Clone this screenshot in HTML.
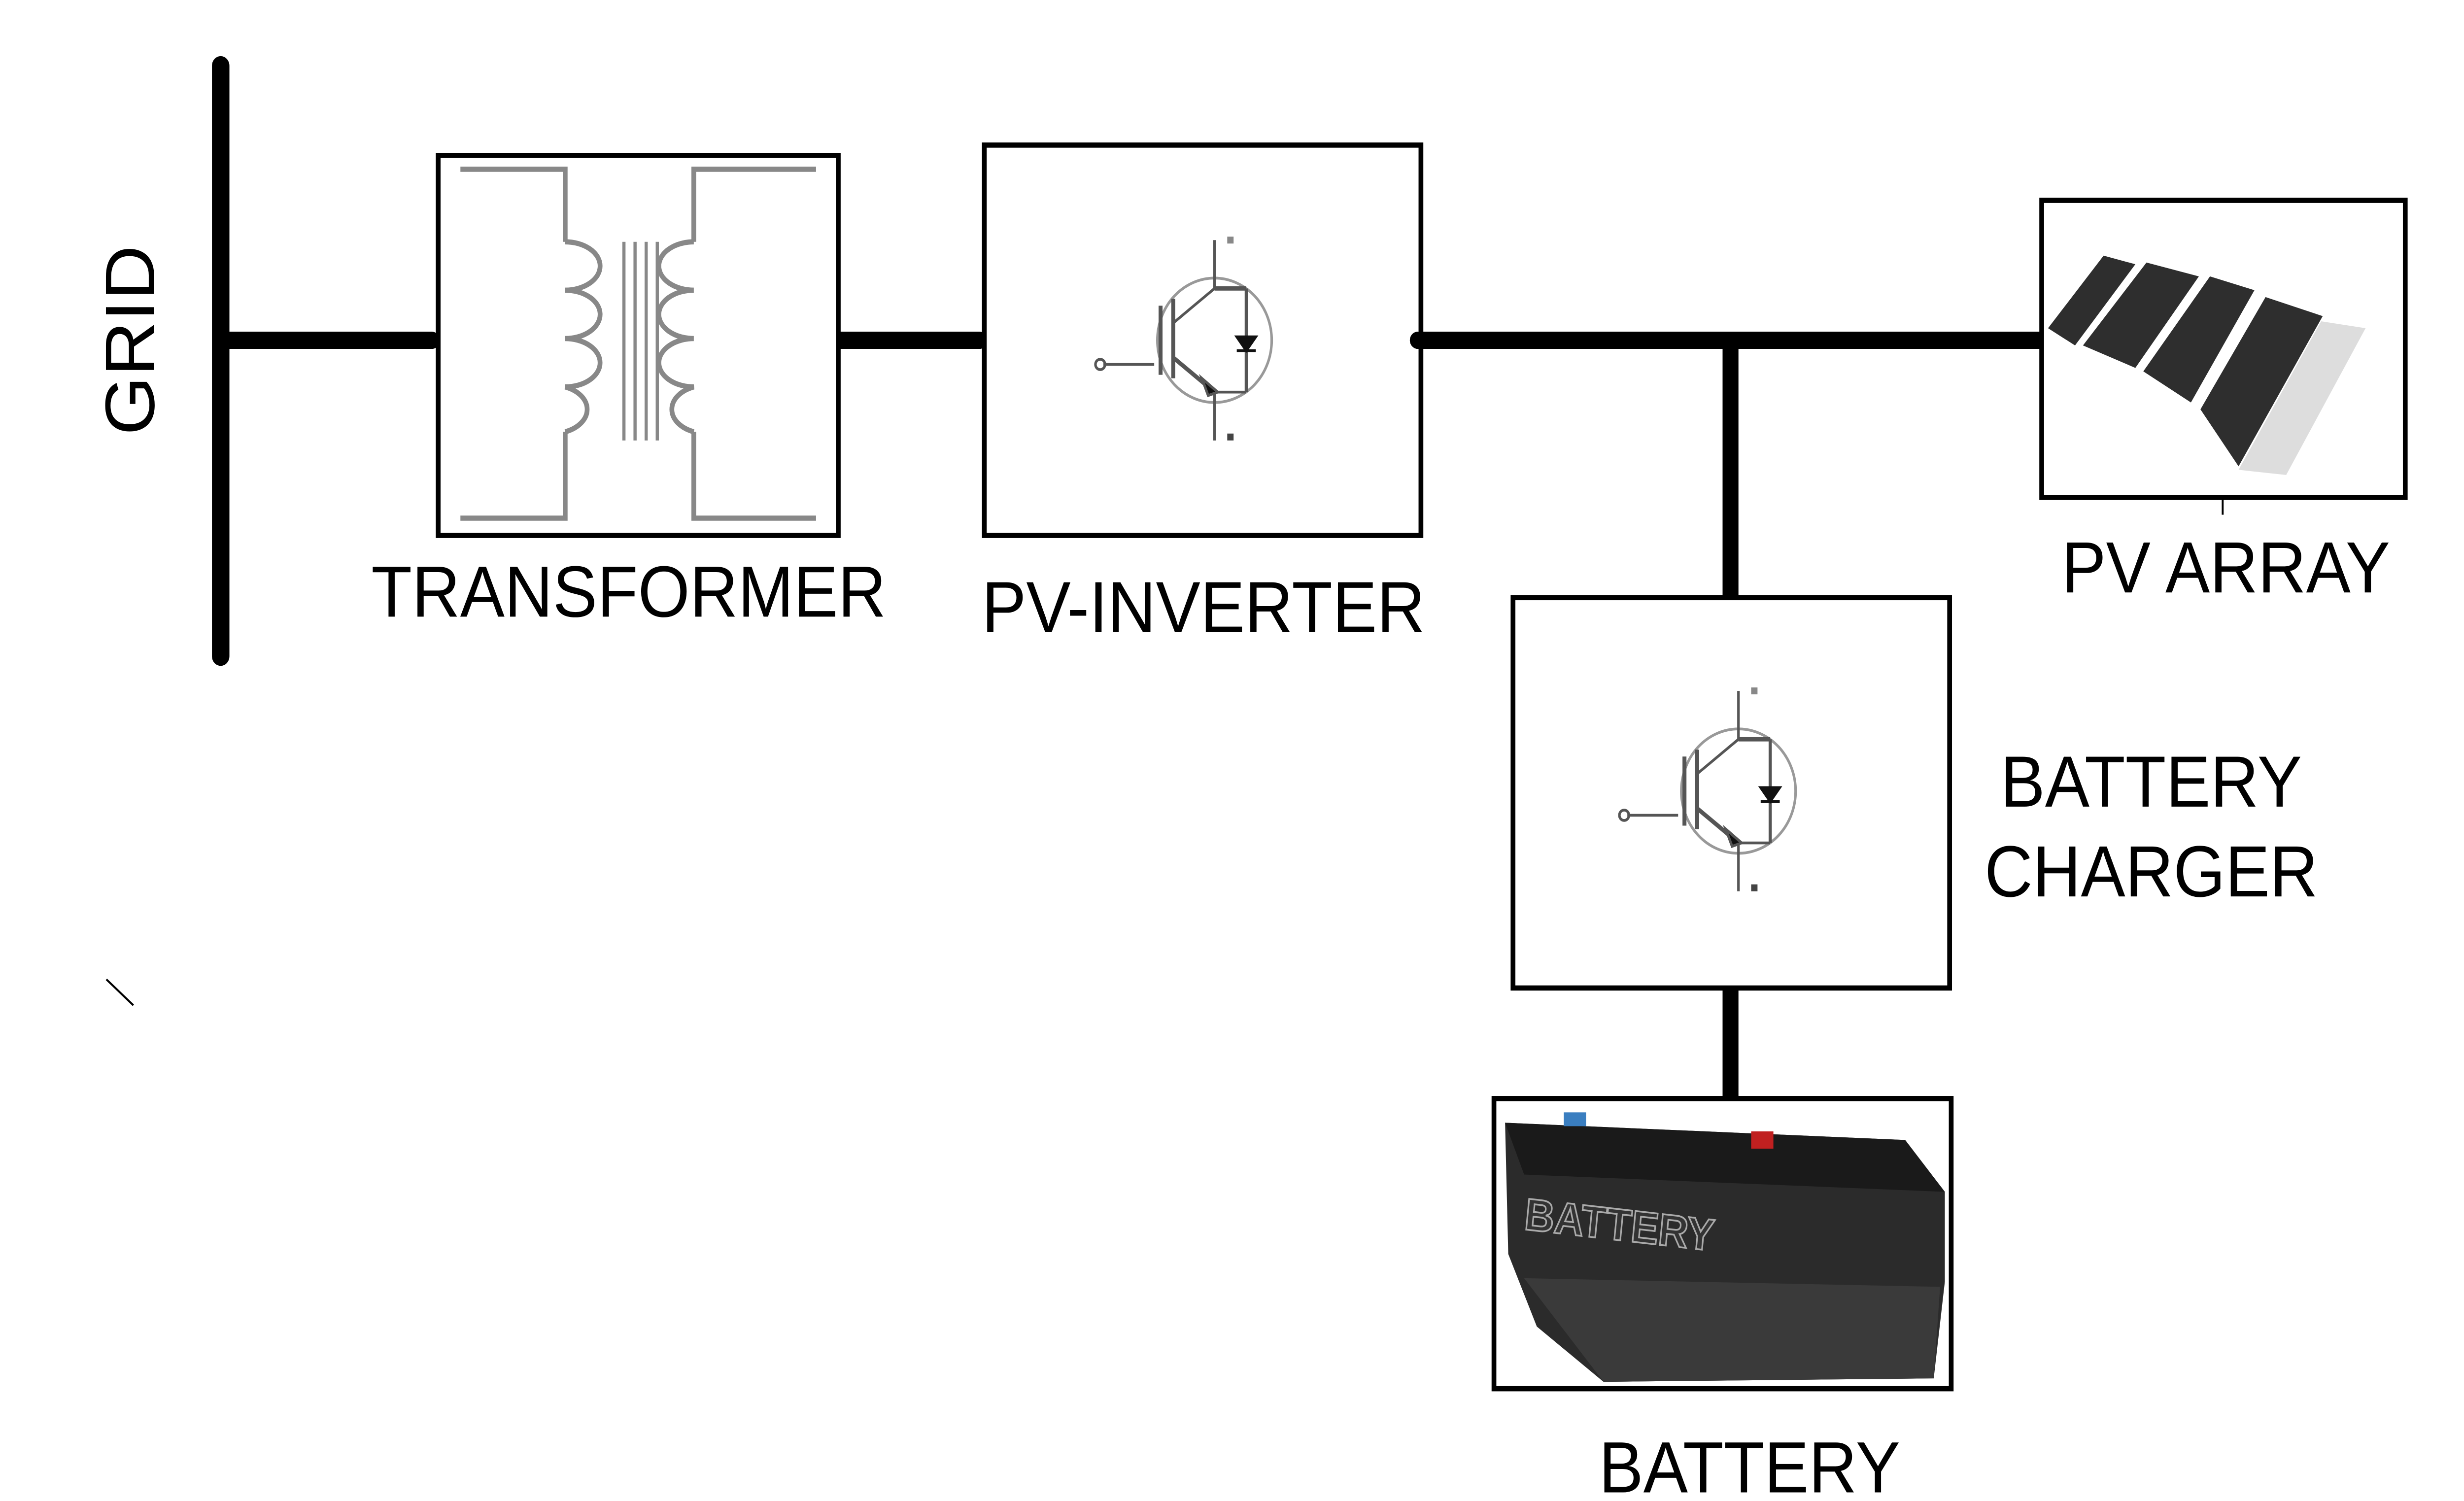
<!DOCTYPE html>
<html><head><meta charset="utf-8"><style>html,body{margin:0;padding:0;background:#fff;overflow:hidden;width:100%;height:100%}svg{display:block;width:100vw;height:100vh}</style></head>
<body>
<svg viewBox="0 0 1552 869" preserveAspectRatio="none" xmlns="http://www.w3.org/2000/svg" font-family="Liberation Sans, sans-serif">
<defs>
<g id="igbt" fill="none" stroke="#555" stroke-width="1.6">
<circle cx="0" cy="0" r="36" stroke="#999"/>
<line x1="-38" y1="14" x2="-70" y2="14"/>
<circle cx="-72" cy="14" r="3"/>
<line x1="-34" y1="-20" x2="-34" y2="20" stroke-width="2.5"/>
<line x1="-26" y1="-24" x2="-26" y2="22" stroke-width="2.5"/>
<line x1="-26" y1="-10" x2="0" y2="-30"/>
<line x1="-26" y1="10" x2="0" y2="30" stroke-width="2.5"/>
<line x1="0" y1="-30" x2="20" y2="-30" stroke-width="2.5"/>
<line x1="0" y1="30" x2="20" y2="30"/>
<line x1="20" y1="-30" x2="20" y2="30" stroke-width="2"/>
<path d="M14 -2 L26 -2 L20 6 Z" fill="#111" stroke="#111"/>
<line x1="14" y1="6" x2="26" y2="6" stroke="#111"/>
<path d="M-8 22 L2 30 L-4 32 Z" fill="#111"/>
<line x1="0" y1="-30" x2="0" y2="-58"/>
<line x1="0" y1="30" x2="0" y2="58"/>
<rect x="8" y="-60" width="4" height="4" fill="#888" stroke="none"/>
<rect x="8" y="54" width="4" height="4" fill="#444" stroke="none"/>
</g>
</defs>
<rect width="1552" height="869" fill="#fff"/>
<line x1="139" y1="38" x2="139" y2="380" stroke="#000" stroke-width="11" stroke-linecap="round"/>
<line x1="139" y1="197" x2="272" y2="197" stroke="#000" stroke-width="10" stroke-linecap="round"/>
<line x1="528" y1="197" x2="617" y2="197" stroke="#000" stroke-width="10" stroke-linecap="round"/>
<line x1="893" y1="197" x2="1287" y2="197" stroke="#000" stroke-width="10" stroke-linecap="round"/>
<line x1="1090" y1="197" x2="1090" y2="347" stroke="#000" stroke-width="10" stroke-linecap="round"/>
<line x1="1090" y1="572" x2="1090" y2="636" stroke="#000" stroke-width="10" stroke-linecap="round"/>
<line x1="67" y1="567" x2="84" y2="582" stroke="#000" stroke-width="1.2"/>
<line x1="1400" y1="288" x2="1400" y2="298" stroke="#000" stroke-width="1.2"/>
<rect x="276" y="90" width="252" height="220" fill="#fff" stroke="#000" stroke-width="3"/>
<g fill="none" stroke="#888" stroke-width="3">
<path d="M290 98 H356 V140"/>
<path d="M290 300 H356 V250"/>
<path d="M514 98 H437 V140"/>
<path d="M514 300 H437 V250"/>
<path d="M356 140 a22 14 0 0 1 0 28 a22 14 0 0 1 0 28 a22 14 0 0 1 0 28 a22 14 0 0 1 0 26"/>
<path d="M437 140 a22 14 0 0 0 0 28 a22 14 0 0 0 0 28 a22 14 0 0 0 0 28 a22 14 0 0 0 0 26"/>
<line x1="393" y1="140" x2="393" y2="255" stroke-width="2"/>
<line x1="400" y1="140" x2="400" y2="255" stroke-width="2"/>
<line x1="407" y1="140" x2="407" y2="255" stroke-width="2"/>
<line x1="414" y1="140" x2="414" y2="255" stroke-width="2"/>
</g>
<rect x="620" y="84" width="275" height="226" fill="#fff" stroke="#000" stroke-width="3"/>
<use href="#igbt" x="765" y="197"/>
<circle cx="893" cy="197" r="5" fill="#000"/>
<rect x="953" y="346" width="275" height="226" fill="#fff" stroke="#000" stroke-width="3"/>
<use href="#igbt" x="1095" y="458"/>
<rect x="1286" y="116" width="229" height="172" fill="#fff" stroke="#000" stroke-width="3"/>
<g fill="#2e2e2e">
<path d="M1290 190 L1325 148 L1345 153 L1307 200 Z"/>
<path d="M1312 200 L1352 152 L1385 160 L1345 213 Z"/>
<path d="M1350 215 L1392 160 L1420 168 L1380 233 Z"/>
<path d="M1386 237 L1427 172 L1463 183 L1410 270 Z"/>
</g>
<path d="M1410 272 L1462 186 L1490 190 L1440 275 Z" fill="#ddd"/>
<rect x="941" y="636" width="288" height="168" fill="#fff" stroke="#000" stroke-width="3"/>
<path d="M948 650 L1200 660 L1225 690 L1225 742 L1218 798 L1010 800 L968 768 L950 726 Z" fill="#2b2b2b"/>
<path d="M948 650 L1200 660 L1225 690 L960 680 Z" fill="#1a1a1a"/>
<path d="M960 740 L1222 745 L1218 798 L1010 800 Z" fill="#3a3a3a"/>
<rect x="985" y="644" width="14" height="8" fill="#3a7ec0"/>
<rect x="1103" y="655" width="14" height="10" fill="#c02020"/>
<text x="1020" y="718" font-size="26" font-weight="bold" fill="#333" stroke="#aaa" stroke-width="1" text-anchor="middle" transform="rotate(6 1020 710)">BATTERY</text>
<text x="0" y="0" font-size="44" transform="translate(97 197) rotate(-90)" text-anchor="middle">GRID</text>
<text x="396" y="357" font-size="42" text-anchor="middle">TRANSFORMER</text>
<text x="758" y="366" font-size="42" text-anchor="middle">PV-INVERTER</text>
<text x="1402" y="343" font-size="42" text-anchor="middle">PV ARRAY</text>
<text x="1355" y="467" font-size="42" text-anchor="middle">BATTERY</text>
<text x="1355" y="519" font-size="42" text-anchor="middle">CHARGER</text>
<text x="1102" y="864" font-size="42" text-anchor="middle">BATTERY</text>
</svg>
</body></html>
